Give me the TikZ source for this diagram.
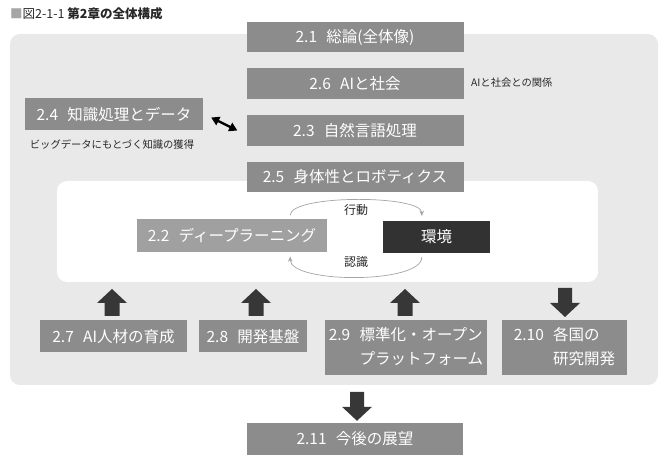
\documentclass[tikz,border=0pt]{standalone}
\usepackage{fontspec}
\setmainfont{Noto Sans CJK JP}
\usetikzlibrary{arrows.meta}
\definecolor{boxgray}{RGB}{140,140,140}
\definecolor{lightbox}{RGB}{160,160,160}
\definecolor{darkbox}{RGB}{50,50,50}
\definecolor{outerbg}{RGB}{233,233,233}
\definecolor{arcgray}{RGB}{165,165,165}
\definecolor{labeltext}{RGB}{40,40,40}
\definecolor{arrowdark}{RGB}{55,55,55}
\definecolor{titlesq}{RGB}{165,165,165}
\begin{document}
\begin{tikzpicture}[x=1pt,y=-1pt,
  chap/.style={fill=boxgray, text=white, font=\fontsize{15.5}{24}\selectfont, inner sep=0pt, anchor=center},
  smalllabel/.style={text=labeltext, font=\fontsize{10.3}{12}\selectfont, inner sep=0pt},
  arclabel/.style={text=labeltext, font=\fontsize{12}{14}\selectfont, inner sep=0pt},
  looparc/.style={arcgray, line width=0.7pt, -{Stealth[length=5pt,width=4.5pt]}},
  uparrow/.pic={\fill[arrowdark] (0,0) -- (15,14) -- (7.5,14) -- (7.5,27) -- (-7.5,27) -- (-7.5,14) -- (-15,14) -- cycle;},
  downarrow/.pic={\fill[arrowdark] (-7,0) -- (7,0) -- (7,15) -- (15,15) -- (0,29) -- (-15,15) -- (-7,15) -- cycle;}
]
\useasboundingbox (0,0) rectangle (665,462);
% backgrounds
\fill[outerbg, rounded corners=10pt] (10,34) rectangle (658,385);
\fill[white, rounded corners=10pt] (57,181) rectangle (598,282);

% title
\node[anchor=west, inner sep=0pt, text=labeltext, font=\fontsize{12.5}{14}\selectfont] (title) at (10,14)
  {\textcolor{titlesq}{■}図2-1-1 \textbf{第2章の全体構成}};

% central column
\node[chap, minimum width=217pt, minimum height=30pt] (c21) at (355,37) {2.1\hspace{0.6em}総論(全体像)};
\node[chap, minimum width=217pt, minimum height=31pt] (c26) at (355,84) {2.6\hspace{0.6em}AIと社会};
\node[chap, minimum width=217pt, minimum height=31pt] (c23) at (355,130.5) {2.3\hspace{0.6em}自然言語処理};
\node[chap, minimum width=217pt, minimum height=30pt] (c25) at (355,177) {2.5\hspace{0.6em}身体性とロボティクス};

\node[chap, minimum width=178pt, minimum height=32pt] (c24) at (114,114.5) {2.4\hspace{0.6em}知識処理とデータ};

\node[smalllabel, anchor=west] (lab26) at (471,83) {AIと社会との関係};
\node[smalllabel] (lab24) at (112,145) {ビッグデータにもとづく知識の獲得};

\draw[black, line width=2.4pt, {Triangle[length=8pt,width=9pt]}-{Triangle[length=8pt,width=9pt]}]
  ([xshift=8pt,yshift=-3pt]c24.east) -- ([xshift=-9pt]c23.west);

% inner loop
\node[chap, fill=lightbox, minimum width=190pt, minimum height=33pt] (c22) at (232,236) {2.2\hspace{0.6em}ディープラーニング};
\node[chap, fill=darkbox, minimum width=107pt, minimum height=32pt] (env) at (436.5,237) {環境};

\draw[looparc] ([xshift=-37pt,yshift=4pt]c22.north east) .. controls +(0,-21) and +(0,-21) .. ([xshift=39pt,yshift=5pt]env.north west);
\draw[looparc] ([xshift=39pt,yshift=-4pt]env.south west) .. controls +(0,27) and +(0,27) .. ([xshift=-37pt,yshift=-4pt]c22.south east);
\node[arclabel] (act) at (356,210) {行動};
\node[arclabel] (rec) at (356,262) {認識};

% bottom row
\node[chap, minimum width=147pt, minimum height=32pt, anchor=north] (c27) at (113.5,320) {2.7\hspace{0.6em}AI人材の育成};
\node[chap, minimum width=108pt, minimum height=32pt, anchor=north] (c28) at (253,320) {2.8\hspace{0.6em}開発基盤};
\node[chap, minimum width=162pt, minimum height=55pt, anchor=north] (c29) at (406,320)
  {\begin{tabular}{@{}l@{\hspace{0.6em}}l@{}}2.9&標準化・オープン\\&プラットフォーム\end{tabular}};
\node[chap, minimum width=125pt, minimum height=55pt, anchor=north] (c210) at (564.5,320)
  {\begin{tabular}{@{}l@{\hspace{0.6em}}l@{}}2.10&各国の\\&研究開発\end{tabular}};

\path ([xshift=-1.5pt]c27.north) ++(0,-31) pic {uparrow};
\path ([xshift=3pt]c28.north) ++(0,-31) pic {uparrow};
\path ([xshift=-1pt]c29.north) ++(0,-31) pic {uparrow};
\path ([xshift=0.5pt]c210.north) ++(0,-32) pic {downarrow};

% final
\node[chap, minimum width=216pt, minimum height=32pt] (c211) at (355,439) {2.11\hspace{0.6em}今後の展望};
\path ([xshift=2pt]c211.north) ++(0,-31) pic {downarrow};
\end{tikzpicture}
\end{document}
